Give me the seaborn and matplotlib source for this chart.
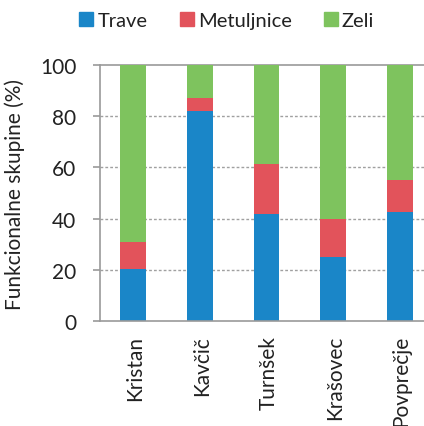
import matplotlib
matplotlib.use("Agg")
import matplotlib.pyplot as plt
import seaborn as sns
import pandas as pd
import numpy as np

sns.set_theme(style="white")
plt.rcParams['font.family'] = ['Lato', 'DejaVu Sans']

categories = ["Kristan", "Kavčič", "Turnšek", "Krašovec", "Povprečje"]
trave = [20.5, 82, 42, 25, 42.5]
metuljnice = [10.5, 5, 19.5, 15, 12.5]
zeli = [69, 13, 38.5, 60, 45]
series_names = ["Trave", "Metuljnice", "Zeli"]
colors = ["#1a86c8", "#e2535b", "#7ec35e"]

df = pd.DataFrame({"kategorija": categories, "Trave": trave,
                   "Metuljnice": metuljnice, "Zeli": zeli})

fig = plt.figure(figsize=(4.24, 4.27), dpi=100)
ax = fig.add_axes([0.236, 0.246, 0.785, 0.599])

bottom = np.zeros(len(categories))
for name, col in zip(series_names, colors):
    sns.barplot(data=df, x="kategorija", y=name, color=col, bottom=bottom,
                width=0.39, ax=ax, saturation=1, edgecolor="none")
    bottom = bottom + df[name].to_numpy()

ax.set_ylim(0, 100)
ax.set_xlim(-0.5, 4.5)
ax.set_yticks([0, 20, 40, 60, 80, 100])
for y in [20, 40, 60, 80]:
    ax.axhline(y, color="#a0a0a0", lw=1.0, ls=(0, (2, 1.5)), zorder=0)
ax.axhline(100, color="#9a9a9a", lw=1.2, zorder=0, clip_on=False)

for s in ["top", "right"]:
    ax.spines[s].set_visible(False)
for s in ["left", "bottom"]:
    ax.spines[s].set_color("#9a9a9a")
    ax.spines[s].set_linewidth(1.2)

ax.set_xticks(np.arange(len(categories)) + 0.03)
ax.set_xticklabels(categories, rotation=90, fontsize=15, color="#222222")
ax.set_xticks(np.arange(-0.5, 5.0, 1.0), minor=True)
ax.tick_params(axis="x", which="major", length=0, pad=10)
ax.tick_params(axis="x", which="minor", length=6, width=1.2, color="#9a9a9a", direction="out")
ax.tick_params(axis="y", length=5, width=1.2, color="#9a9a9a", direction="out",
               labelsize=15, labelcolor="#222222", left=True, pad=12)
ax.set_xlabel("")
ax.set_ylabel("Funkcionalne skupine (%)", fontsize=15, color="#222222", labelpad=11)

handles = [plt.Rectangle((0, 0), 1, 1, color=c) for c in colors]
fig.legend(handles, series_names, loc="center", bbox_to_anchor=(0.535, 0.95),
           ncol=3, frameon=False, fontsize=14.5, handlelength=0.7, handleheight=0.7,
           handletextpad=0.2, columnspacing=1.6, labelcolor="#222222")

fig.savefig("out.png", dpi=100)
